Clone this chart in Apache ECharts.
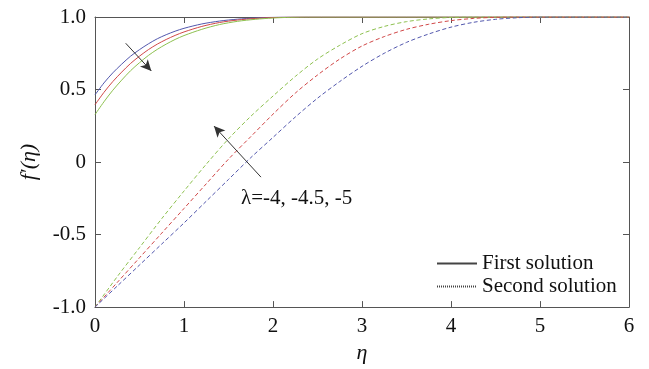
<!DOCTYPE html>
<html><head><meta charset="utf-8">
<script src="https://cdn.jsdelivr.net/npm/echarts@6/dist/echarts.min.js"></script>
<style>html,body{margin:0;padding:0;background:#fff}#c{width:649px;height:369px}</style>
</head><body><div id="c"></div>
<script>
const FONT = "'Liberation Serif','Times New Roman',serif";
// First solution (solid)
const eta1 = [0,0.1,0.2,0.3,0.4,0.5,0.6,0.7,0.8,0.9,1.0,1.2,1.4,1.6,1.8,2.0,2.2,2.4,3,6];
const first_m4  = [0.463,0.545,0.615,0.675,0.73,0.775,0.815,0.85,0.878,0.902,0.922,0.952,0.972,0.985,0.993,0.998,1,1,1,1];
const first_m45 = [0.395,0.48,0.555,0.62,0.68,0.73,0.775,0.813,0.845,0.873,0.897,0.935,0.962,0.979,0.99,0.996,0.999,1,1,1];
const first_m5  = [0.327,0.415,0.495,0.565,0.63,0.685,0.735,0.777,0.813,0.845,0.872,0.915,0.948,0.97,0.984,0.993,0.998,1,1,1];
// Second solution (dashed)
const eta2 = [0,0.25,0.5,0.75,1.0,1.25,1.5,1.75,2.0,2.25,2.5,2.75,3.0,3.25,3.5,3.75,4.0,4.25,4.5,4.75,5.0,6];
const second_m4  = [-1,-0.79,-0.59,-0.39,-0.20,-0.015,0.16,0.315,0.455,0.59,0.71,0.805,0.885,0.935,0.968,0.987,0.997,1,1,1,1,1];
const second_m45 = [-1,-0.83,-0.66,-0.49,-0.32,-0.15,0.02,0.175,0.33,0.475,0.60,0.71,0.80,0.865,0.915,0.95,0.975,0.99,0.998,1,1,1];
const second_m5  = [-1,-0.855,-0.71,-0.565,-0.42,-0.27,-0.12,0.03,0.17,0.31,0.44,0.555,0.66,0.75,0.825,0.883,0.93,0.963,0.984,0.995,1,1];
const xTicks = ['0','1','2','3','4','5','6'];
const yTicks = {'-1':'-1.0','-0.5':'-0.5','0':'0','0.5':'0.5','1':'1.0'};
const colors = {m4:'#5257ad', m45:'#d04848', m5:'#8dc04f'};
const legendNames = ['First solution','Second solution'];
const annotation = 'λ=-4, -4.5, -5';
const arrow1 = [[0.345,0.819],[0.633,0.628]];
const arrow2 = [[1.865,-0.104],[1.337,0.248]];

const pairs = (xs, ys) => xs.map((x,i)=>[x, ys[i]]);
function curve(name, xs, ys, color, dashed){
  return {type:'line', name, data: pairs(xs, ys), symbol:'none', smooth:0.3,
    lineStyle:{color, width:1, type: dashed ? [4,2.5] : 'solid'}, itemStyle:{color}, silent:true, z:3};
}
function arrowLine(a){
  return [{coord:a[0]},{coord:a[1]}];
}
const axisCommon = {
  axisLine:{show:true, onZero:false, lineStyle:{color:'#555', width:1}},
  axisTick:{show:true, inside:true, length:6, lineStyle:{color:'#555'}},
  splitLine:{show:false}
};
const chart = echarts.init(document.getElementById('c'), null, {renderer:'canvas'});
const s1 = curve('first λ=-4', eta1, first_m4, colors.m4, false);
s1.markLine = {silent:true, symbol:['none','arrow'], symbolSize:[8,11], label:{show:false},
  lineStyle:{color:'#333', width:1, type:'solid'},
  data:[arrowLine(arrow1), arrowLine(arrow2)]};
chart.setOption({
  animation:false,
  grid:{left:95, right:20, top:17, bottom:58},
  legend:{data:legendNames, orient:'vertical', left:431, top:248, itemWidth:40, itemHeight:12, itemGap:2,
    itemStyle:{opacity:0},
    textStyle:{fontFamily:FONT, fontSize:21, color:'#111'}},
  xAxis:[
    Object.assign({type:'value', min:0, max:6, interval:1, position:'bottom',
      name:'η', nameLocation:'middle', nameGap:30,
      nameTextStyle:{fontFamily:FONT, fontSize:22, fontStyle:'italic', color:'#111'},
      axisLabel:{fontFamily:FONT, fontSize:21, color:'#111', margin:9, formatter:v=>xTicks[Math.round(v)]}}, axisCommon),
    Object.assign({type:'value', min:0, max:6, interval:1, position:'top', axisLabel:{show:false}}, axisCommon)
  ],
  yAxis:[
    Object.assign({type:'value', min:-1, max:1, interval:0.5, position:'left',
      name:"f′(η)", nameLocation:'middle', nameGap:55,
      nameTextStyle:{fontFamily:FONT, fontSize:22, fontStyle:'italic', color:'#111'},
      axisLabel:{fontFamily:FONT, fontSize:21, color:'#111', margin:9, formatter:v=>yTicks[String(v)]}}, axisCommon),
    Object.assign({type:'value', min:-1, max:1, interval:0.5, position:'right', axisLabel:{show:false}}, axisCommon)
  ],
  graphic:[{type:'text', left:241, top:188, style:{text:annotation, font:'21px '+FONT, fill:'#111'}}],
  series:[
    s1,
    curve('first λ=-4.5', eta1, first_m45, colors.m45, false),
    curve('first λ=-5', eta1, first_m5, colors.m5, false),
    curve('second λ=-4', eta2, second_m4, colors.m5, true),
    curve('second λ=-4.5', eta2, second_m45, colors.m45, true),
    curve('second λ=-5', eta2, second_m5, colors.m4, true),
    {type:'line', name:'First solution', data:[], symbol:'none', lineStyle:{color:'#444', width:1, type:'solid'}, itemStyle:{color:'#444'}},
    {type:'line', name:'Second solution', data:[], symbol:'none', lineStyle:{color:'#444', width:1, type:[1,1]}, itemStyle:{color:'#444'}}
  ]
});
</script></body></html>
